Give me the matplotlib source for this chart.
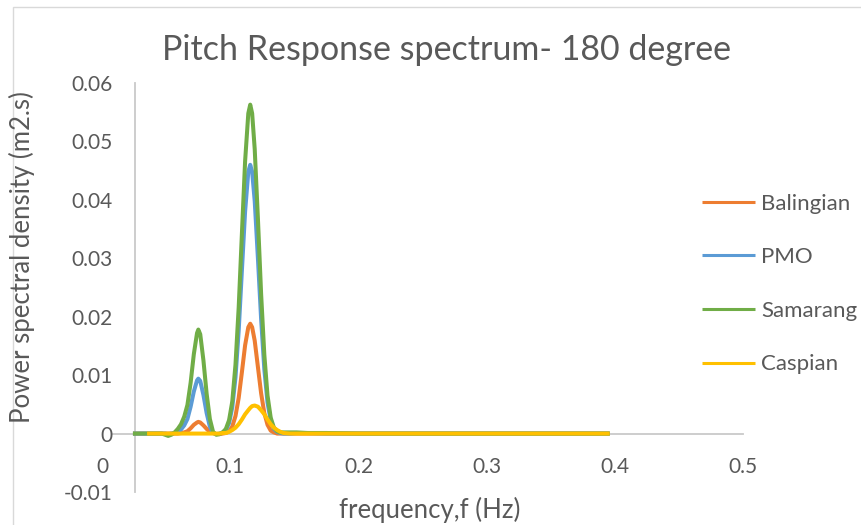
import numpy as np
import matplotlib.pyplot as plt
import matplotlib.patches as patches

plt.rcParams['font.family'] = ['Lato', 'DejaVu Sans']

# frequency (Hz) and spectral density values
freq = [0.024, 0.035, 0.04, 0.0465, 0.049, 0.0515, 0.054, 0.0565, 0.059, 0.0615,
        0.064, 0.0665, 0.069, 0.0715, 0.074, 0.075, 0.0765, 0.079, 0.0815, 0.084,
        0.0865, 0.089, 0.0915, 0.094, 0.0965, 0.099, 0.1015, 0.104, 0.1065, 0.109,
        0.1115, 0.114, 0.1155, 0.117, 0.119, 0.1215, 0.124, 0.1265, 0.129, 0.1315,
        0.134, 0.1365, 0.139, 0.1415, 0.1465, 0.1515, 0.16, 0.175, 0.2, 0.25,
        0.3, 0.35, 0.396]

balingian = [0, 0, 0, 0, 0, 0, 0, 0, 0, 0.0001,
             0.0002, 0.0004, 0.0009, 0.0015, 0.0019, 0.0020, 0.0019, 0.0014, 0.0008, 0.0003,
             0.0001, -0.0001, -0.0001, 0, 0.0001, 0.0004, 0.0012, 0.0030, 0.0061, 0.0105,
             0.0151, 0.0182, 0.0188, 0.0182, 0.0159, 0.0114, 0.0069, 0.0035, 0.0015, 0.0005,
             0.0002, 0, 0, 0, 0, 0, 0, 0, 0, 0,
             0, 0, 0]

pmo = [0, 0, 0, 0, 0, -0.0001, 0, 0.0001, 0.0003, 0.0007,
       0.0014, 0.0025, 0.0046, 0.0072, 0.0091, 0.0094, 0.0090, 0.0066, 0.0035, 0.0012,
       0.0001, -0.0001, 0, 0.0002, 0.0006, 0.0018, 0.0045, 0.0096, 0.0176, 0.0279,
       0.0380, 0.0448, 0.0460, 0.0448, 0.0398, 0.0300, 0.0196, 0.0110, 0.0053, 0.0022,
       0.0008, 0.0003, 0.0001, 0, 0, 0.0001, 0.0001, 0, 0, 0,
       0, 0, 0]

samarang = [0, 0, 0, 0, -0.0002, -0.0004, -0.0002, 0.0002, 0.0008, 0.0016,
            0.0029, 0.0049, 0.0087, 0.0136, 0.0172, 0.0178, 0.0170, 0.0125, 0.0068, 0.0025,
            0.0003, -0.0002, -0.0001, 0.0002, 0.0008, 0.0023, 0.0055, 0.0118, 0.0216, 0.0342,
            0.0466, 0.0548, 0.0563, 0.0548, 0.0487, 0.0368, 0.0239, 0.0135, 0.0065, 0.0027,
            0.0010, 0.0004, 0.0002, 0.0002, 0.0002, 0.0002, 0.0001, 0.0001, 0, 0,
            0, 0, 0]

caspian = [np.nan, 0, 0, 0, 0, 0, 0, 0, 0, 0,
           0, 0, 0, 0, 0, 0, 0, 0, 0, 0,
           0, 0, 0, 0.0001, 0.0001, 0.0003, 0.0006, 0.0010, 0.0016, 0.0024,
           0.0033, 0.0040, 0.0044, 0.0047, 0.0048, 0.0046, 0.0040, 0.0033, 0.0024, 0.0016,
           0.0010, 0.0006, 0.0003, 0.0001, 0, 0, 0, 0, 0, 0,
           0, 0, 0]

series = [('Balingian', balingian, '#ED7D31'),
          ('PMO', pmo, '#5B9BD5'),
          ('Samarang', samarang, '#70AD47'),
          ('Caspian', caspian, '#FFC000')]

text_col = '#595959'
axis_col = '#c9c9c9'

W, H = 862, 525
fig = plt.figure(figsize=(W / 100, H / 100), dpi=100)

# chart area border (only top/left edges visible in the picture)
fig.patches.append(patches.Rectangle((13 / W, -0.05), 1.2, 1 - 7 / H + 0.05,
                                     transform=fig.transFigure, fill=False,
                                     ec='#d9d9d9', lw=1.0))

ax = fig.add_axes([102.2 / W, 1 - 492 / H, (743 - 102.2) / W, (492 - 83) / H])
ax.set_xlim(0, 0.5)
ax.set_ylim(-0.01, 0.06)

for name, vals, col in series:
    ax.plot(freq, vals, color=col, lw=2.9, label=name, solid_capstyle='butt')

for s in ['top', 'right']:
    ax.spines[s].set_visible(False)
ax.spines['bottom'].set_position(('data', 0))
ax.spines['bottom'].set_bounds(0.0076, 0.5)
ax.spines['left'].set_position(('data', 0.0257))
for s in ['bottom', 'left']:
    ax.spines[s].set_color(axis_col)
    ax.spines[s].set_linewidth(1.3)
    ax.spines[s].set_zorder(0.5)

ax.set_xticks([0, 0.1, 0.2, 0.3, 0.4, 0.5])
ax.set_xticklabels(['0', '0.1', '0.2', '0.3', '0.4', '0.5'])
ax.set_yticks([-0.01, 0, 0.01, 0.02, 0.03, 0.04, 0.05, 0.06])
ax.set_yticklabels(['-0.01', '0', '0.01', '0.02', '0.03', '0.04', '0.05', '0.06'])
ax.tick_params(axis='x', length=0, pad=17, labelsize=15, labelcolor=text_col)
ax.tick_params(axis='y', length=0, pad=16.5, labelsize=15, labelcolor=text_col)

fig.text(447 / W, 1 - 50 / H, 'Pitch Response spectrum- 180 degree',
         ha='center', va='center', fontsize=24.5, color=text_col)
fig.text(430 / W, 1 - 510 / H, 'frequency,f (Hz)',
         ha='center', va='center', fontsize=18.5, color=text_col)
fig.text(22 / W, 1 - 257 / H, 'Power spectral density (m2.s)',
         ha='center', va='center', rotation=90, fontsize=18.5, color=text_col)

leg = fig.legend(loc='center left', bbox_to_anchor=(702 / W, 1 - 284 / H),
                 frameon=False, fontsize=16, handlelength=2.4, handletextpad=0.25,
                 labelspacing=1.51, borderpad=0, borderaxespad=0)
for t in leg.get_texts():
    t.set_color(text_col)
for h in leg.get_lines():
    h.set_linewidth(2.2)

fig.savefig('out.png', dpi=100)
